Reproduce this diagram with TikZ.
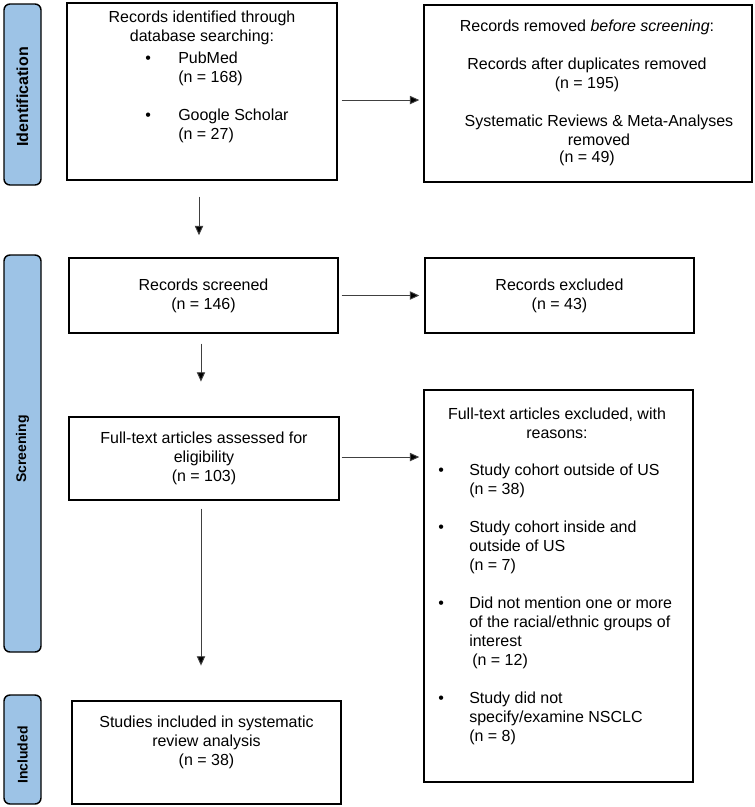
\documentclass[tikz,border=0pt]{standalone}
\usepackage{fontspec}
\setmainfont{Liberation Sans}
\usetikzlibrary{arrows.meta,positioning,calc}
\definecolor{bandblue}{RGB}{157,195,230}
\begin{document}
\begin{tikzpicture}[x=0.75pt,y=-0.75pt,
  every node/.style={font=\fontsize{12}{14.25}\selectfont, inner sep=0pt},
  band/.style={draw=black, line width=1.1pt, fill=bandblue, rounded corners=4.5pt, minimum width=27.75pt},
  bandtext/.style={rotate=90, font=\fontsize{10.5}{12.5}\selectfont\bfseries},
  box/.style={draw=black, line width=1.1pt, fill=white, align=center},
  txt/.style={align=center},
  lst/.style={align=left, anchor=west},
  arr/.style={draw=black!75, line width=0.7pt, -{Triangle[length=7pt,width=6.2pt,fill=black]}}
]
\useasboundingbox (0,0) rectangle (754,807);

% side bands
\node[band, minimum height=135.75pt] (bid) at (22.5,94.5) {};
\node[bandtext, font=\fontsize{12}{14}\selectfont\bfseries] (bidt) at (22.5,97) {Identification};
\node[band, minimum height=297.75pt] (bsc) at (22.5,453.5) {};
\node[bandtext] (bsct) at (22.5,449) {Screening};
\node[band, minimum height=81.75pt] (bin) at (22.5,749.5) {};
\node[bandtext] (bint) at (22.5,755) {Included};

% identification boxes
\node[box, minimum width=202.5pt, minimum height=132.75pt] (ident) at (202,91.5) {};
\node[txt] (identh) at (202,27.5) {Records identified through\\database searching:};
\node[lst] (identl) at (145,97.5) {\makebox[24.75pt][l]{\textbullet}PubMed\\
\hspace*{24.75pt}(n = 168)\\[14.25pt]
\makebox[24.75pt][l]{\textbullet}Google Scholar\\
\hspace*{24.75pt}(n = 27)};

\node[box, minimum width=246pt, minimum height=132.75pt] (removed) at (588,93.5) {};
\node[txt] (remA) at (587,56) {Records removed \textit{before screening}:\\[14.25pt]
Records after duplicates removed\\(n = 195)};
\node[txt] (remB) at (599,130) {Systematic Reviews \& Meta-Analyses\\removed};
\node[txt] (remC) at (587,158) {(n = 49)};

% screening boxes
\node[box, minimum width=201.75pt, minimum height=56.25pt] (screened) at (203.5,295.5) {Records screened\\(n = 146)};
\node[box, minimum width=201.75pt, minimum height=56.25pt] (excluded) at (559.5,295.5) {Records excluded\\(n = 43)};

\node[box, minimum width=202.5pt, minimum height=62.25pt] (fulltext) at (204,458.5) {Full-text articles assessed for\\eligibility\\(n = 103)};

\node[box, minimum width=201.75pt, minimum height=294pt] (ftexcl) at (558.5,586) {};
\node[txt] (ftexh) at (557,423.5) {Full-text articles excluded, with\\reasons:};
\node[lst] (ftexl) at (438,604) {\makebox[23.25pt][l]{\textbullet}Study cohort outside of US\\
\hspace*{23.25pt}(n = 38)\\[14.25pt]
\makebox[23.25pt][l]{\textbullet}Study cohort inside and\\
\hspace*{23.25pt}outside of US\\
\hspace*{23.25pt}(n = 7)\\[14.25pt]
\makebox[23.25pt][l]{\textbullet}Did not mention one or more\\
\hspace*{23.25pt}of the racial/ethnic groups of\\
\hspace*{23.25pt}interest\\
\hspace*{25.5pt}(n = 12)\\[14.25pt]
\makebox[23.25pt][l]{\textbullet}Study did not\\
\hspace*{23.25pt}specify/examine NSCLC\\
\hspace*{23.25pt}(n = 8)};

% included box
\node[box, minimum width=201.75pt, minimum height=77.25pt] (included) at (206.5,752.5) {};
\node[txt] (inct) at (206.5,742.5) {Studies included in systematic\\review analysis\\(n = 38)};

% connectors
\draw[arr, shorten <=3pt, shorten >=3pt] ([yshift=-6.4pt]ident.east) -- ([yshift=-6.4pt]ident.east -| removed.west);
\draw[arr, shorten <=12pt, shorten >=16.5pt] ([xshift=-2.25pt]ident.south) -- ([xshift=-2.25pt]ident.south |- screened.north);
\draw[arr, shorten <=2.25pt, shorten >=3.75pt] (screened.east) -- (excluded.west);
\draw[arr, shorten <=7.5pt, shorten >=26pt] ([xshift=-1.9pt]screened.south) -- ([xshift=-1.9pt]screened.south |- fulltext.north);
\draw[arr, shorten <=1.5pt, shorten >=3pt] ([yshift=1.1pt]fulltext.east) -- ([yshift=1.1pt]fulltext.east -| ftexcl.west);
\draw[arr, shorten <=6pt, shorten >=26pt] ([xshift=-2.25pt]fulltext.south) -- ([xshift=-2.25pt]fulltext.south |- included.north);
\end{tikzpicture}
\end{document}
